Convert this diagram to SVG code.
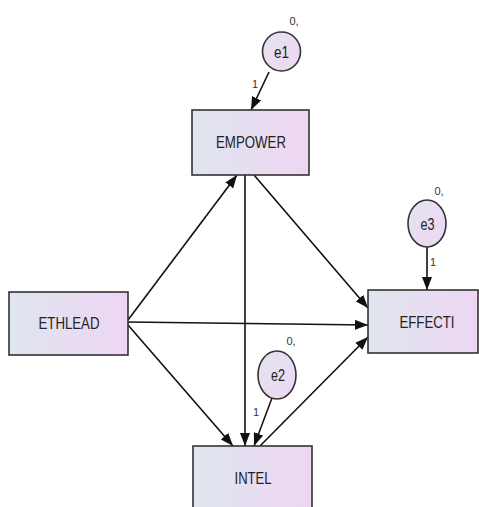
<svg xmlns="http://www.w3.org/2000/svg" width="479" height="507" viewBox="0 0 479 507">
<defs>
<linearGradient id="gBox" x1="0" y1="0" x2="1" y2="0">
<stop offset="0" stop-color="#dfe5ee"/>
<stop offset="1" stop-color="#eed6f3"/>
</linearGradient>
<linearGradient id="gEl" x1="0" y1="0" x2="1" y2="1">
<stop offset="0" stop-color="#e3e3ef"/>
<stop offset="1" stop-color="#efd7f3"/>
</linearGradient>
<marker id="arr" markerUnits="userSpaceOnUse" markerWidth="14" markerHeight="10" refX="13" refY="5" orient="auto">
<path d="M0,0 L13,5 L0,10 Z" fill="#111"/>
</marker>
<style>
.box{fill:url(#gBox);stroke:#333;stroke-width:1.6}
.el{fill:url(#gEl);stroke:#333;stroke-width:1.6}
.lbl{font-family:"Liberation Sans",Arial,sans-serif;font-size:17px;fill:#222;text-anchor:middle}
.sm{font-family:"Liberation Sans",Arial,sans-serif;font-size:11px;fill:#333;text-anchor:middle}
.c{stroke:#111;stroke-width:1.6;fill:none;marker-end:url(#arr)}
</style>
</defs>
<g id="connectors">
<line class="c" x1="269" y1="72" x2="251" y2="110"/>
<line class="c" x1="427" y1="247" x2="427" y2="290"/>
<line class="c" x1="272" y1="398" x2="254" y2="446"/>
<line class="c" x1="128" y1="320" x2="237" y2="175"/>
<line class="c" x1="128" y1="322" x2="368" y2="325"/>
<line class="c" x1="128" y1="325" x2="233" y2="446"/>
<line class="c" x1="245" y1="175" x2="245" y2="446"/>
<line class="c" x1="254" y1="175" x2="368" y2="308"/>
<line class="c" x1="260" y1="446" x2="368" y2="337"/>
</g>
<g id="EMPOWER">
<rect class="box" x="192" y="110" width="117" height="65"/>
<text class="lbl" x="251" y="148" textLength="70" lengthAdjust="spacingAndGlyphs">EMPOWER</text>
</g>
<g id="ETHLEAD">
<rect class="box" x="9" y="292" width="119" height="63"/>
<text class="lbl" x="69" y="329" textLength="61" lengthAdjust="spacingAndGlyphs">ETHLEAD</text>
</g>
<g id="EFFECTI">
<rect class="box" x="368" y="290" width="110" height="63"/>
<text class="lbl" x="427" y="328" textLength="55" lengthAdjust="spacingAndGlyphs">EFFECTI</text>
</g>
<g id="INTEL">
<rect class="box" x="193" y="446" width="119" height="64"/>
<text class="lbl" x="253" y="484" textLength="37" lengthAdjust="spacingAndGlyphs">INTEL</text>
</g>
<g id="e1">
<ellipse class="el" cx="281.5" cy="51.5" rx="19" ry="19.5"/>
<text class="lbl" x="281.5" y="58" textLength="15" lengthAdjust="spacingAndGlyphs">e1</text>
<text class="sm" x="294" y="25">0,</text>
<text class="sm" x="255" y="88">1</text>
</g>
<g id="e3">
<ellipse class="el" cx="427" cy="223.5" rx="19" ry="23.5"/>
<text class="lbl" x="427.5" y="230" textLength="14" lengthAdjust="spacingAndGlyphs">e3</text>
<text class="sm" x="439" y="195">0,</text>
<text class="sm" x="433" y="266">1</text>
</g>
<g id="e2">
<ellipse class="el" cx="277" cy="375" rx="19" ry="24"/>
<text class="lbl" x="278" y="381" textLength="14" lengthAdjust="spacingAndGlyphs">e2</text>
<text class="sm" x="291" y="345">0,</text>
<text class="sm" x="256" y="416">1</text>
</g>
</svg>
